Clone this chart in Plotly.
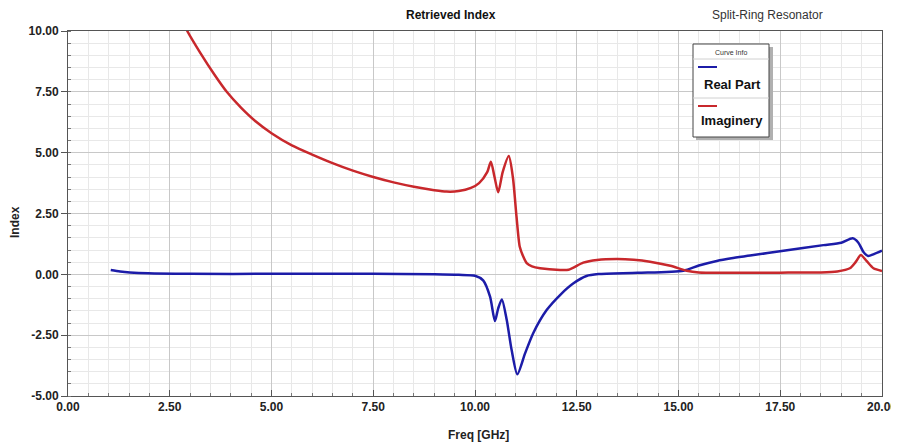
import plotly.graph_objects as go

# ---- data ----
freq_imag = [2.7, 2.93, 3.25, 3.6, 3.9, 4.25, 4.6, 5.0, 5.5, 6.0, 6.5, 7.0, 7.5, 8.0, 8.5, 9.0,
             9.3, 9.6, 9.9, 10.1, 10.3, 10.39, 10.48, 10.57, 10.68, 10.83, 10.93, 11.02, 11.1,
             11.18, 11.27, 11.4, 11.6, 12.09, 12.3, 12.66, 13.0, 13.48, 13.9, 14.3, 14.8, 15.2,
             15.5, 16.5, 17.5, 18.5, 18.9, 19.21, 19.35, 19.48, 19.62, 19.79, 20.0]
imag_part = [10.8, 10.0, 9.1, 8.2, 7.5, 6.85, 6.3, 5.8, 5.3, 4.92, 4.57, 4.26, 4.0, 3.78, 3.6, 3.46,
             3.4, 3.42, 3.55, 3.75, 4.2, 4.63, 4.0, 3.37, 4.2, 4.86, 4.0, 2.37, 1.13,
             0.75, 0.46, 0.33, 0.25, 0.18, 0.19, 0.48, 0.59, 0.63, 0.6, 0.52, 0.35, 0.15,
             0.08, 0.07, 0.07, 0.08, 0.12, 0.25, 0.5, 0.79, 0.55, 0.25, 0.14]

freq_real = [1.05, 1.28, 1.52, 1.97, 3.0, 5.0, 7.5, 9.0, 9.6, 10.0, 10.2, 10.37, 10.49, 10.57,
             10.66, 10.78, 10.9, 11.04, 11.23, 11.43, 11.76, 12.09, 12.42, 12.74, 13.03, 14.0,
             15.12, 15.5, 15.94, 16.3, 16.76, 17.58, 18.56, 19.0, 19.28, 19.42, 19.54, 19.66,
             19.8, 20.0]
real_part = [0.18, 0.12, 0.08, 0.04, 0.02, 0.02, 0.02, 0.0, -0.02, -0.06, -0.25, -0.92, -1.92, -1.4,
             -1.03, -1.88, -3.11, -4.11, -3.25, -2.42, -1.47, -0.85, -0.37, -0.07, 0.01, 0.06,
             0.15, 0.36, 0.55, 0.66, 0.77, 0.97, 1.2, 1.3, 1.48, 1.3, 0.93, 0.75,
             0.83, 0.97]

series_names = ["Real Part", "Imaginery"]
series_colors = ["#1c1ca8", "#c8282c"]

x_tick_vals = [0, 2.5, 5, 7.5, 10, 12.5, 15, 17.5, 20]
x_tick_text = ["0.00", "2.50", "5.00", "7.50", "10.00", "12.50", "15.00", "17.50", "20.00"]
y_tick_vals = [-5, -2.5, 0, 2.5, 5, 7.5, 10]
y_tick_text = ["-5.00", "-2.50", "0.00", "2.50", "5.00", "7.50", "10.00"]

# page has an 8px body margin: shrink the figure and shift the plot area to compensate
OFF = 8
W, H = 899 - OFF, 443 - OFF
REF_L, REF_T, REF_R, REF_B = 68, 31, 882, 396   # plot area in reference pixels
L, T = REF_L - OFF, REF_T - OFF
R, B = W - (REF_R - OFF), H - (REF_B - OFF)
PW, PH = REF_R - REF_L, REF_B - REF_T


def px(x):
    return (x - REF_L) / PW


def py(y):
    return (REF_B - y) / PH


FONT = "Liberation Sans, Arial, sans-serif"

fig = go.Figure()
fig.add_trace(go.Scatter(x=freq_real, y=real_part, mode="lines", name=series_names[0],
                         line=dict(color=series_colors[0], width=2.5, shape="spline", smoothing=0.7)))
fig.add_trace(go.Scatter(x=freq_imag, y=imag_part, mode="lines", name=series_names[1],
                         line=dict(color=series_colors[1], width=2.5, shape="spline", smoothing=0.7)))

tickfont = dict(family=FONT, size=12, color="#222222", weight="bold")

fig.update_xaxes(range=[0, 20], tickvals=x_tick_vals, ticktext=x_tick_text, ticks="inside", ticklen=6,
                 tickcolor="#555555", showgrid=True, gridcolor="#c8c8c8", gridwidth=1,
                 showline=True, linecolor="#555555", linewidth=1, mirror=True, zeroline=False,
                 tickfont=tickfont, automargin=False,
                 minor=dict(dtick=0.5, tick0=0, showgrid=True, gridcolor="#e8e8e8", ticks="inside",
                            ticklen=3, tickcolor="#777777"))
fig.update_yaxes(range=[-5, 10], tickvals=y_tick_vals, ticktext=y_tick_text, ticks="outside", ticklen=6,
                 tickcolor="#555555", showgrid=True, gridcolor="#c8c8c8", gridwidth=1,
                 showline=True, linecolor="#555555", linewidth=1, mirror=True, zeroline=False,
                 tickfont=tickfont, automargin=False,
                 minor=dict(dtick=0.5, tick0=0, showgrid=True, gridcolor="#e8e8e8", ticks="inside",
                            ticklen=3, tickcolor="#777777"))

annotations = [
    dict(text="<b>Retrieved Index</b>", x=px(451), y=py(15), xref="paper", yref="paper",
         showarrow=False, xanchor="center", yanchor="middle",
         font=dict(family=FONT, size=12, color="#111111")),
    dict(text="Split-Ring Resonator", x=px(767), y=py(15), xref="paper", yref="paper",
         showarrow=False, xanchor="center", yanchor="middle",
         font=dict(family=FONT, size=12, color="#333333")),
    dict(text="<b>Freq [GHz]</b>", x=px(478), y=py(435), xref="paper", yref="paper",
         showarrow=False, xanchor="center", yanchor="middle",
         font=dict(family=FONT, size=12, color="#222222")),
    dict(text="<b>Index</b>", x=px(15), y=py(222), xref="paper", yref="paper", textangle=-90,
         showarrow=False, xanchor="center", yanchor="middle",
         font=dict(family=FONT, size=12, color="#222222")),
    dict(text="Curve Info", x=px(731), y=py(53), xref="paper", yref="paper", showarrow=False,
         xanchor="center", yanchor="middle",
         font=dict(family=FONT, size=7, color="#333333")),
    dict(text="<b>" + series_names[0] + "</b>", x=px(702), y=py(85), xref="paper", yref="paper",
         showarrow=False, xanchor="left", yanchor="middle",
         font=dict(family=FONT, size=13, color="#111111")),
    dict(text="<b>" + series_names[1] + "</b>", x=px(699), y=py(120), xref="paper", yref="paper",
         showarrow=False, xanchor="left", yanchor="middle",
         font=dict(family=FONT, size=13, color="#111111")),
]

shapes = [
    dict(type="rect", xref="paper", yref="paper", x0=px(696), x1=px(773), y0=py(47), y1=py(140),
         fillcolor="#b0b0b0", line=dict(width=0), layer="above"),
    dict(type="rect", xref="paper", yref="paper", x0=px(693), x1=px(769), y0=py(44), y1=py(137),
         fillcolor="white", line=dict(color="#444444", width=1), layer="above"),
    dict(type="line", xref="paper", yref="paper", x0=px(693), x1=px(769), y0=py(59), y1=py(59),
         line=dict(color="#d0d0d0", width=1), layer="above"),
    dict(type="line", xref="paper", yref="paper", x0=px(693), x1=px(769), y0=py(98), y1=py(98),
         line=dict(color="#d0d0d0", width=1), layer="above"),
    dict(type="line", xref="paper", yref="paper", x0=px(698), x1=px(717), y0=py(67), y1=py(67),
         line=dict(color=series_colors[0], width=2), layer="above"),
    dict(type="line", xref="paper", yref="paper", x0=px(698), x1=px(717), y0=py(106), y1=py(106),
         line=dict(color=series_colors[1], width=2), layer="above"),
]

fig.update_layout(width=W, height=H, margin=dict(l=L, r=R, t=T, b=B),
                  paper_bgcolor="white", plot_bgcolor="white", showlegend=False,
                  annotations=annotations, shapes=shapes, font=dict(family=FONT))

fig.write_html("out.html")
